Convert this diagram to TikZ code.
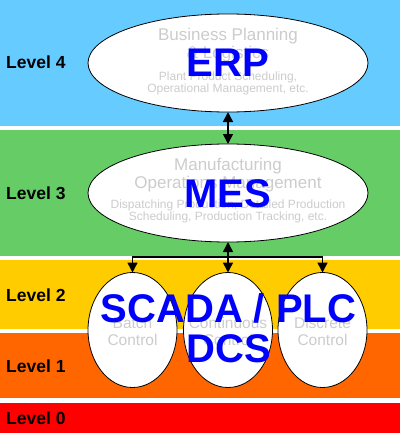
\documentclass[tikz,border=0pt]{standalone}
\usepackage{fontspec}
\setmainfont{Liberation Sans}
\usetikzlibrary{shapes.geometric,arrows.meta}
\definecolor{lvlfour}{HTML}{66CCFF}
\definecolor{lvlthree}{HTML}{66CC66}
\definecolor{lvltwo}{HTML}{FFCC00}
\definecolor{lvlone}{HTML}{FF6600}
\definecolor{lvlzero}{HTML}{FF0000}
\definecolor{descgray}{HTML}{CCCCCC}
\definecolor{tagblue}{HTML}{0000FF}

\begin{document}
\begin{tikzpicture}[x=1pt, y=-1pt,
  >={Triangle[length=10pt, width=10pt]},
  lvl/.style={anchor=base west, inner sep=0pt, font=\fontsize{17.5}{20}\selectfont\bfseries},
  sys/.style={ellipse, draw, line width=0.8pt, fill=white, inner sep=0pt, outer sep=0pt},
  big/.style={sys, minimum width=280pt, minimum height=98pt},
  small/.style={sys, minimum width=89pt, minimum height=115pt},
  desc/.style={align=center, inner sep=0pt, text=descgray, font=\fontsize{17}{18}\selectfont},
  sub/.style={align=center, inner sep=0pt, text=descgray, font=\fontsize{12}{12}\selectfont},
  ctl/.style={align=center, inner sep=0pt, text=descgray, font=\fontsize{15.5}{17}\selectfont},
  tag/.style={anchor=base, inner sep=0pt, text=tagblue, font=\fontsize{40}{40}\selectfont\bfseries},
  arr/.style={->, line width=1.5pt}
]
  \useasboundingbox (0,0) rectangle (400,433);
  \fill[white] (0,0) rectangle (400,433);
  % level bands
  \fill[lvlfour]  (0,0)   rectangle (400,126);
  \fill[lvlthree] (0,130) rectangle (400,256);
  \fill[lvltwo]   (0,260) rectangle (400,329);
  \fill[lvlone]   (0,333) rectangle (400,398);
  \fill[lvlzero]  (0,403) rectangle (400,433);
  \node[lvl] (l4) at (6,69)    {Level 4};
  \node[lvl] (l3) at (6,199.5) {Level 3};
  \node[lvl] (l2) at (6,301.5) {Level 2};
  \node[lvl] (l1) at (6,372.5) {Level 1};
  \node[lvl] (l0) at (6,424)   {Level 0};
  % systems
  \node[big]   (erp)   at (228,63)    {};
  \node[big]   (mes)   at (228,193)   {};
  \node[small] (batch) at (132.5,330) {};
  \node[small] (cont)  at (228,330)   {};
  \node[small] (disc)  at (322.5,330) {};
  \node[desc] (erpd)  at (228,45.5)  {Business Planning\\\& Logistics};
  \node[sub]  (erps)  at (228,83.4)  {Plant Product Scheduling,\\Operational Management, etc.};
  \node[desc] (mesd)  at (228,175.6) {Manufacturing\\Operations Management};
  \node[sub]  (mess)  at (228,211.8) {Dispatching Production, Detailed Production\\Scheduling, Production Tracking, etc.};
  \node[ctl]  (batchd) at (132.5,331) {Batch\\Control};
  \node[ctl]  (contd)  at (228,331)   {Continuous\\Control};
  \node[ctl]  (discd)  at (322.5,331) {Discrete\\Control};
  % connectors
  \coordinate (bus) at (228,257);
  \draw[arr, <->] (erp) -- (mes);
  \draw[arr] (bus) -- (mes);
  \draw[arr] (bus) -| (batch);
  \draw[arr] (bus) -- (cont);
  \draw[arr] (bus) -| (disc);
  % tags
  \node[tag] (erpt)   at (228,77)    {ERP};
  \node[tag] (mest)   at (228,207)   {MES};
  \node[tag] (scadat) at (228.5,322) {SCADA / PLC};
  \node[tag] (dcst)   at (229,362)   {DCS};
\end{tikzpicture}
\end{document}
